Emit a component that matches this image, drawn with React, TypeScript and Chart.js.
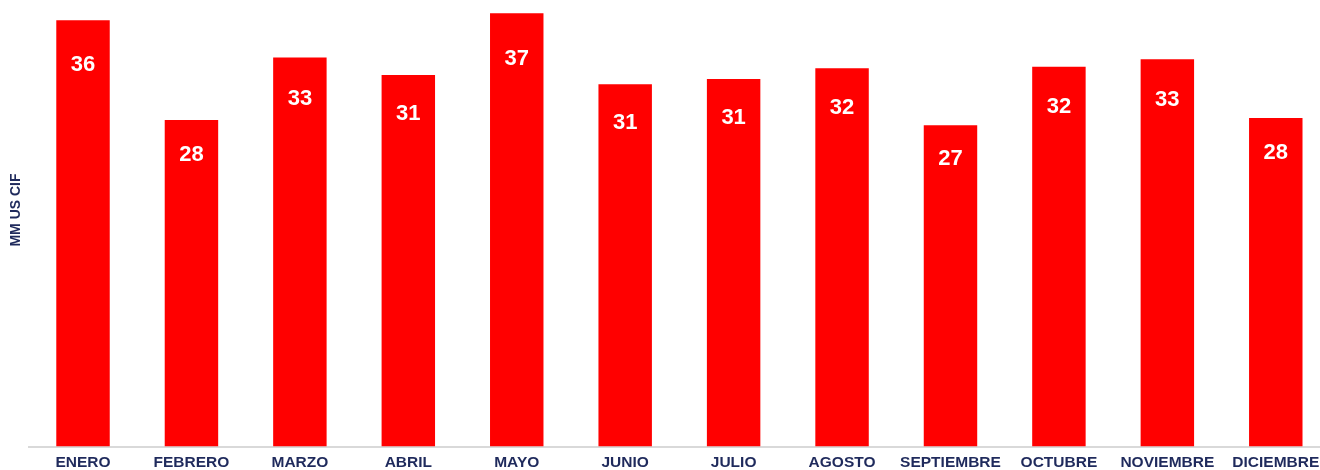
import React, { useEffect, useRef } from "react";
import { Chart, registerables } from "chart.js";

Chart.register(...registerables);

const months = [
  "ENERO", "FEBRERO", "MARZO", "ABRIL", "MAYO", "JUNIO",
  "JULIO", "AGOSTO", "SEPTIEMBRE", "OCTUBRE", "NOVIEMBRE", "DICIEMBRE",
];
const values = [36.03, 27.6, 32.87, 31.4, 36.62, 30.62, 31.06, 31.97, 27.15, 32.1, 32.73, 27.77];
const yTitle = "MM US CIF";

const NAVY = "#1F2A5C";
const RED = "#FF0000";

const labelPlugin = {
  id: "barLabels",
  afterDatasetsDraw(chart: any) {
    const ctx = chart.ctx;
    const meta = chart.getDatasetMeta(0);
    ctx.save();
    ctx.fillStyle = "#FFFFFF";
    ctx.font = "bold 22px 'Liberation Sans', Arial, sans-serif";
    ctx.textAlign = "center";
    ctx.textBaseline = "middle";
    meta.data.forEach((bar: any, i: number) => {
      const h = bar.base - bar.y;
      ctx.fillText(String(Math.round(values[i])), bar.x, bar.y + h * 0.1 + 2);
    });
    ctx.restore();
  },
};

const titlePlugin = {
  id: "yTitle",
  afterDraw(chart: any) {
    const ctx = chart.ctx;
    ctx.save();
    ctx.translate(16.5, 210);
    ctx.rotate(-Math.PI / 2);
    ctx.fillStyle = NAVY;
    ctx.font = "bold 14px 'Liberation Sans', Arial, sans-serif";
    ctx.textAlign = "center";
    ctx.textBaseline = "middle";
    ctx.fillText(yTitle, 0, 0);
    ctx.restore();
  },
};

export default function App() {
  const ref = useRef<HTMLCanvasElement>(null);
  useEffect(() => {
    if (!ref.current) return;
    const chart = new Chart(ref.current, {
      type: "bar",
      data: {
        labels: months,
        datasets: [
          {
            data: values,
            backgroundColor: RED,
            borderWidth: 0,
            barPercentage: 0.493,
            categoryPercentage: 1,
          },
        ],
      },
      options: {
        responsive: false,
        animation: false,
        devicePixelRatio: 1,
        layout: { padding: { left: 28.8, right: 0, top: 0, bottom: 0 } },
        plugins: { legend: { display: false }, tooltip: { enabled: false } },
        scales: {
          x: {
            grid: { display: false },
            border: { display: true, color: "#D9D9D9", width: 2 },
            ticks: {
              color: NAVY,
              font: { family: "'Liberation Sans', Arial, sans-serif", size: 15.5, weight: "bold" },
              padding: -1,
              maxRotation: 0,
              autoSkip: false,
            },
            afterFit: (scale: any) => {
              scale.height = 23.5;
            },
          },
          y: {
            display: false,
            min: 0,
            max: 37.74,
          },
        },
      },
      plugins: [labelPlugin, titlePlugin],
    });
    return () => chart.destroy();
  }, []);
  return (
    <div
      style={{
        position: "absolute",
        left: 0,
        top: 0,
        width: 1320,
        height: 470,
        overflow: "hidden",
        background: "#FFFFFF",
      }}
    >
      <canvas ref={ref} width={1330} height={470} style={{ display: "block", width: 1330, height: 470 }} />
    </div>
  );
}
